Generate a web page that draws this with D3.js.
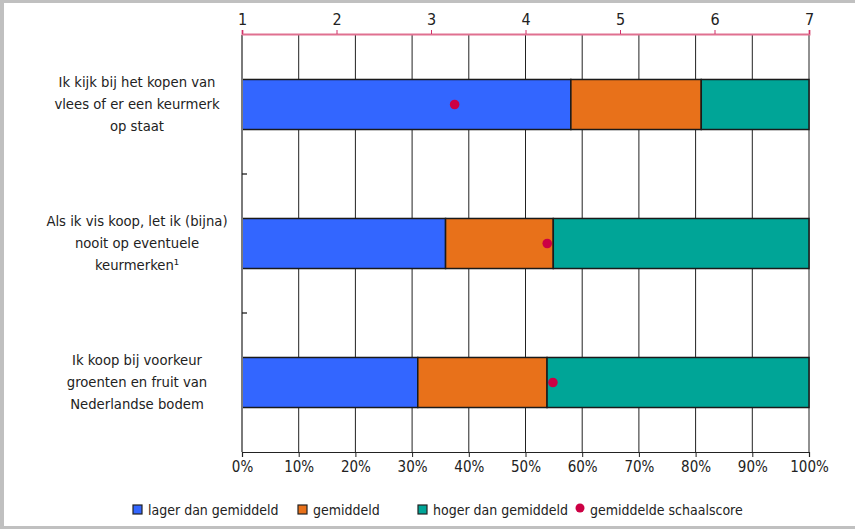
<!DOCTYPE html>
<html>
<head>
<meta charset="utf-8">
<script src="https://cdn.jsdelivr.net/npm/d3@7"></script>
<style>
  body { margin: 0; background: #fff; }
  svg { display: block; }
  text { font-family: "DejaVu Sans Condensed", "Liberation Sans Narrow", sans-serif; fill: #222; }
</style>
</head>
<body>
<div id="chart"></div>
<script>
var width = 855, height = 529;
var margin = { top: 35, left: 242, right: 46, bottom: 77 };
var font = "'DejaVu Sans Condensed', 'Liberation Sans Narrow', sans-serif";

// data
var statements = [
	["Ik kijk bij het kopen van", "vlees of er een keurmerk", "op staat"],
	["Als ik vis koop, let ik (bijna)", "nooit op eventuele", "keurmerken¹"],
	["Ik koop bij voorkeur", "groenten en fruit van", "Nederlandse bodem"]
];
var lager = [58.0, 35.9, 31.0];
var gemiddeld = [23.0, 19.0, 22.8];
var hoger = [19.0, 45.1, 46.2];
var schaalscore = [3.25, 4.23, 4.29];
var seriesNames = ["lager dan gemiddeld", "gemiddeld", "hoger dan gemiddeld"];
var seriesColors = ["#3366ff", "#e8711a", "#00a597"];
var pctTicks = [0, 10, 20, 30, 40, 50, 60, 70, 80, 90, 100];
var scoreTicks = [1, 2, 3, 4, 5, 6, 7];

var rows = statements.map(function (s, i) {
	return { id: i, lager: lager[i], gemiddeld: gemiddeld[i], hoger: hoger[i], score: schaalscore[i] };
});

var svg = d3.select("#chart").append("svg")
	.attr("width", width)
	.attr("height", height);

// grey frame like the source document
svg.append("rect").attr("x", 0).attr("y", 0).attr("width", width).attr("height", 3).attr("fill", "#c0c0c0");
svg.append("rect").attr("x", 0).attr("y", 0).attr("width", 4).attr("height", height).attr("fill", "#c0c0c0");
svg.append("rect").attr("x", 0).attr("y", 526).attr("width", width).attr("height", 3).attr("fill", "#c0c0c0");

var x = d3.scaleLinear().domain([0, 100]).range([margin.left, width - margin.right]);
var xs = d3.scaleLinear().domain([1, 7]).range([margin.left, width - margin.right]);
var y = d3.scaleBand().domain(d3.range(statements.length))
	.range([margin.top, height - margin.bottom]).paddingInner(0.64).paddingOuter(0.32);
var band = d3.scaleBand().domain(d3.range(statements.length))
	.range([margin.top, height - margin.bottom]);

// vertical grid
svg.append("g")
	.selectAll("line")
	.data(pctTicks.slice(1))
	.join("line")
	.attr("x1", d => x(d)).attr("x2", d => x(d))
	.attr("y1", margin.top).attr("y2", height - margin.bottom)
	.attr("stroke", "#222").attr("stroke-width", 1);

// stacked bars
var keys = ["lager", "gemiddeld", "hoger"];
var stack = d3.stack().keys(keys)(rows);
svg.append("g")
	.selectAll("g")
	.data(stack)
	.join("g")
	.attr("fill", (d, i) => seriesColors[i])
	.selectAll("rect")
	.data(d => d)
	.join("rect")
	.attr("x", d => x(d[0]))
	.attr("width", d => x(d[1]) - x(d[0]))
	.attr("y", d => y(d.data.id))
	.attr("height", y.bandwidth())
	.attr("stroke", "#1a1a1a").attr("stroke-width", 1.5);

// bottom axis
var xAxis = svg.append("g")
	.attr("transform", "translate(0," + (height - margin.bottom) + ")")
	.call(d3.axisBottom(x).tickValues(pctTicks).tickFormat(d => d + "%").tickSize(5).tickPadding(4));
xAxis.select(".domain").attr("stroke", "#222").attr("stroke-width", 1.2);
xAxis.selectAll(".tick line").attr("stroke", "#222");
xAxis.selectAll("text").attr("font-size", "15px").style("font-family", font).attr("fill", "#222");

// left axis
svg.append("line")
	.attr("x1", margin.left).attr("x2", margin.left)
	.attr("y1", margin.top).attr("y2", height - margin.bottom)
	.attr("stroke", "#7a7a7a").attr("stroke-width", 2);
svg.append("g")
	.selectAll("line")
	.data(d3.range(1, statements.length))
	.join("line")
	.attr("x1", margin.left).attr("x2", margin.left + 5)
	.attr("y1", d => band(d)).attr("y2", d => band(d))
	.attr("stroke", "#111").attr("stroke-width", 1.2);

// top axis for the scale score
var topAxis = svg.append("g")
	.attr("transform", "translate(0," + (margin.top - 1) + ")")
	.call(d3.axisTop(xs).tickValues(scoreTicks).tickFormat(d3.format("d")).tickSize(4).tickPadding(5));
topAxis.select(".domain").attr("stroke", "#e07090").attr("stroke-width", 2);
topAxis.selectAll(".tick line").attr("stroke", "#d0306a");
topAxis.selectAll("text").attr("font-size", "16px").style("font-family", font).attr("fill", "#222");

// score dots
svg.append("g")
	.selectAll("circle")
	.data(rows)
	.join("circle")
	.attr("cx", d => xs(d.score))
	.attr("cy", d => y(d.id) + y.bandwidth() / 2)
	.attr("r", 4.8)
	.attr("fill", "#cc0044");

// category labels
var labels = svg.append("g")
	.selectAll("text")
	.data(statements)
	.join("text")
	.attr("text-anchor", "middle")
	.attr("font-size", "14.7px")
	.attr("y", (d, i) => y(i) + y.bandwidth() / 2 - 23);
labels.selectAll("tspan")
	.data(d => d)
	.join("tspan")
	.attr("x", 137)
	.attr("dy", (d, j) => j === 0 ? 5 : 22)
	.text(d => d);

// legend
var legendItems = seriesNames.concat(["gemiddelde schaalscore"]);
var legendX = [133, 298, 418, 576];
var legend = svg.append("g")
	.selectAll("g")
	.data(legendItems)
	.join("g")
	.attr("transform", (d, i) => "translate(" + legendX[i] + ",510)");
legend.filter((d, i) => i < 3)
	.append("rect")
	.attr("x", 0).attr("y", -5).attr("width", 9).attr("height", 9)
	.attr("fill", (d, i) => seriesColors[i])
	.attr("stroke", "#222").attr("stroke-width", 1.2);
legend.filter((d, i) => i === 3)
	.append("circle")
	.attr("cx", 4).attr("cy", -2).attr("r", 4.5)
	.attr("fill", "#cc0044");
legend.append("text")
	.attr("x", (d, i) => i === 3 ? 14 : 15)
	.attr("y", 5)
	.attr("font-size", "14px")
	.text(d => d);
</script>
</body>
</html>
